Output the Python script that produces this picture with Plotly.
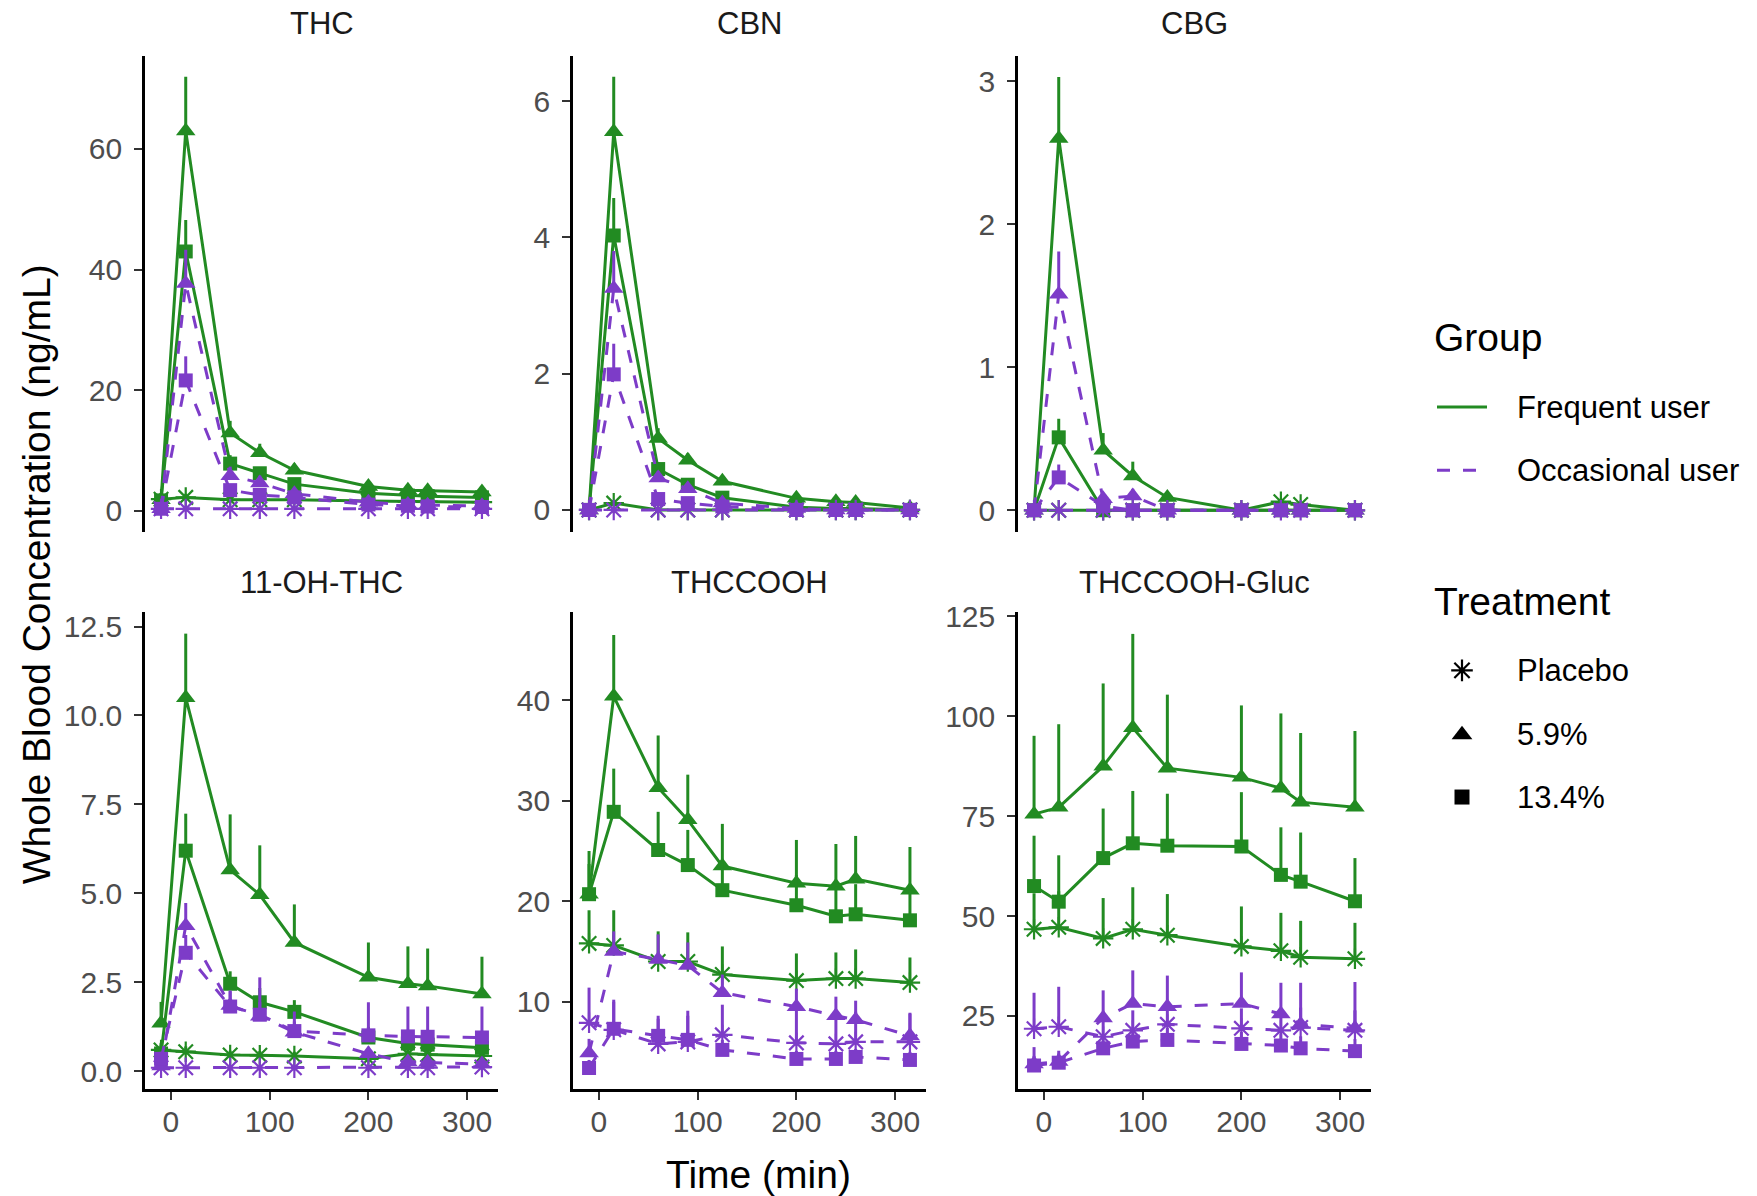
import plotly.graph_objects as go

# ---------------------------------------------------------------------------
# Data: mean whole-blood concentrations (ng/mL) and upper error (SD) by time
# ---------------------------------------------------------------------------
time_min = [-10, 15, 60, 90, 125, 200, 240, 260, 315]

analytes = ["THC", "CBN", "CBG", "11-OH-THC", "THCCOOH", "THCCOOH-Gluc"]
groups = ["Frequent user", "Occasional user"]
treatments = ["Placebo", "5.9%", "13.4%"]

x_ticks = [0, 100, 200, 300]
thc_ticks = [0, 20, 40, 60]
cbn_ticks = [0, 2, 4, 6]
cbg_ticks = [0, 1, 2, 3]
oh_thc_ticks = [0.0, 2.5, 5.0, 7.5, 10.0, 12.5]
thccooh_ticks = [10, 20, 30, 40]
gluc_ticks = [25, 50, 75, 100, 125]

# THC
thc_freq_placebo = [1.9, 2.2, 1.8, 1.8, 1.8, 1.6, 1.5, 1.5, 1.4]
thc_freq_placebo_sd = [0.5, 0.6, 0.5, 0.5, 0.5, 0.4, 0.4, 0.4, 0.4]
thc_freq_low = [1.8, 63.0, 12.9, 9.6, 6.7, 4.0, 3.4, 3.3, 3.1]
thc_freq_low_sd = [0.6, 9.0, 2.0, 1.5, 1.1, 0.7, 0.6, 0.6, 0.5]
thc_freq_high = [1.7, 43.0, 7.8, 6.2, 4.4, 2.9, 2.5, 2.4, 2.2]
thc_freq_high_sd = [0.5, 5.2, 1.4, 1.0, 0.8, 0.5, 0.5, 0.5, 0.4]
thc_occ_placebo = [0.3, 0.3, 0.3, 0.3, 0.3, 0.3, 0.3, 0.3, 0.3]
thc_occ_placebo_sd = [0.1, 0.1, 0.1, 0.1, 0.1, 0.1, 0.1, 0.1, 0.1]
thc_occ_low = [0.3, 37.7, 5.8, 4.6, 2.8, 1.4, 1.0, 0.9, 0.8]
thc_occ_low_sd = [0.2, 5.6, 1.5, 1.2, 0.8, 0.5, 0.4, 0.4, 0.3]
thc_occ_high = [0.3, 21.6, 3.4, 2.6, 2.2, 1.0, 0.8, 0.7, 0.6]
thc_occ_high_sd = [0.1, 4.0, 0.9, 0.7, 0.6, 0.4, 0.3, 0.3, 0.3]

# CBN
cbn_freq_placebo = [0.0, 0.10, 0.0, 0.0, 0.0, 0.0, 0.0, 0.0, 0.0]
cbn_freq_placebo_sd = [0.0, 0.03, 0.0, 0.0, 0.0, 0.0, 0.0, 0.0, 0.0]
cbn_freq_low = [0.0, 5.55, 1.05, 0.73, 0.42, 0.17, 0.12, 0.11, 0.03]
cbn_freq_low_sd = [0.0, 0.81, 0.15, 0.10, 0.07, 0.04, 0.03, 0.03, 0.02]
cbn_freq_high = [0.0, 4.03, 0.60, 0.37, 0.18, 0.04, 0.02, 0.02, 0.0]
cbn_freq_high_sd = [0.0, 0.55, 0.10, 0.06, 0.04, 0.02, 0.01, 0.01, 0.0]
cbn_occ_placebo = [0.0, 0.0, 0.0, 0.0, 0.0, 0.0, 0.0, 0.0, 0.0]
cbn_occ_placebo_sd = [0.0, 0.0, 0.0, 0.0, 0.0, 0.0, 0.0, 0.0, 0.0]
cbn_occ_low = [0.0, 3.25, 0.47, 0.31, 0.10, 0.02, 0.0, 0.0, 0.0]
cbn_occ_low_sd = [0.0, 0.55, 0.10, 0.06, 0.03, 0.01, 0.0, 0.0, 0.0]
cbn_occ_high = [0.0, 1.99, 0.16, 0.10, 0.05, 0.0, 0.0, 0.0, 0.0]
cbn_occ_high_sd = [0.0, 0.45, 0.05, 0.03, 0.02, 0.0, 0.0, 0.0, 0.0]

# CBG
cbg_freq_placebo = [0.0, 0.0, 0.0, 0.0, 0.0, 0.0, 0.06, 0.04, 0.0]
cbg_freq_placebo_sd = [0.0, 0.0, 0.0, 0.0, 0.0, 0.0, 0.02, 0.02, 0.0]
cbg_freq_low = [0.0, 2.60, 0.42, 0.24, 0.09, 0.0, 0.0, 0.0, 0.0]
cbg_freq_low_sd = [0.0, 0.43, 0.12, 0.10, 0.03, 0.0, 0.0, 0.0, 0.0]
cbg_freq_high = [0.0, 0.51, 0.0, 0.0, 0.0, 0.0, 0.0, 0.0, 0.0]
cbg_freq_high_sd = [0.0, 0.13, 0.0, 0.0, 0.0, 0.0, 0.0, 0.0, 0.0]
cbg_occ_placebo = [0.0, 0.0, 0.0, 0.0, 0.0, 0.0, 0.0, 0.0, 0.0]
cbg_occ_placebo_sd = [0.0, 0.0, 0.0, 0.0, 0.0, 0.0, 0.0, 0.0, 0.0]
cbg_occ_low = [0.0, 1.51, 0.08, 0.10, 0.0, 0.0, 0.0, 0.0, 0.0]
cbg_occ_low_sd = [0.0, 0.30, 0.04, 0.05, 0.0, 0.0, 0.0, 0.0, 0.0]
cbg_occ_high = [0.0, 0.23, 0.03, 0.0, 0.0, 0.0, 0.0, 0.0, 0.0]
cbg_occ_high_sd = [0.0, 0.09, 0.0, 0.0, 0.0, 0.0, 0.0, 0.0, 0.0]

# 11-OH-THC
oh_freq_placebo = [0.60, 0.55, 0.46, 0.45, 0.43, 0.35, 0.49, 0.47, 0.43]
oh_freq_placebo_sd = [0.15, 0.15, 0.12, 0.12, 0.12, 0.10, 0.12, 0.12, 0.12]
oh_freq_low = [1.35, 10.5, 5.66, 4.96, 3.62, 2.64, 2.46, 2.40, 2.17]
oh_freq_low_sd = [0.60, 1.80, 1.56, 1.39, 1.07, 0.98, 1.05, 1.05, 1.05]
oh_freq_high = [0.50, 6.20, 2.46, 1.94, 1.67, 0.95, 0.78, 0.75, 0.66]
oh_freq_high_sd = [0.30, 1.04, 0.35, 0.40, 0.33, 0.30, 0.30, 0.30, 0.30]
oh_occ_placebo = [0.10, 0.10, 0.10, 0.10, 0.10, 0.10, 0.10, 0.10, 0.12]
oh_occ_placebo_sd = [0.05, 0.05, 0.05, 0.05, 0.05, 0.05, 0.05, 0.05, 0.05]
oh_occ_low = [0.15, 4.09, 1.85, 1.55, 1.10, 0.49, 0.26, 0.25, 0.20]
oh_occ_low_sd = [0.10, 0.64, 0.40, 0.40, 0.30, 0.20, 0.15, 0.15, 0.10]
oh_occ_high = [0.35, 3.33, 1.82, 1.59, 1.13, 1.01, 0.98, 0.97, 0.95]
oh_occ_high_sd = [0.20, 0.50, 0.45, 1.05, 0.55, 0.93, 0.84, 0.85, 0.87]

# THCCOOH
cooh_freq_placebo = [15.8, 15.6, 14.0, 14.0, 12.7, 12.1, 12.3, 12.3, 11.9]
cooh_freq_placebo_sd = [3.3, 3.5, 3.0, 2.9, 2.8, 2.7, 2.6, 2.9, 2.5]
cooh_freq_low = [20.7, 40.4, 31.3, 28.1, 23.5, 21.8, 21.5, 22.2, 21.1]
cooh_freq_low_sd = [4.3, 6.1, 5.2, 4.5, 4.2, 4.3, 4.2, 4.3, 4.3]
cooh_freq_high = [20.7, 28.9, 25.1, 23.6, 21.1, 19.6, 18.5, 18.7, 18.1]
cooh_freq_high_sd = [3.0, 4.3, 3.8, 3.5, 3.0, 3.0, 3.0, 3.0, 3.0]
cooh_occ_placebo = [7.9, 7.2, 5.8, 6.0, 6.7, 5.9, 5.8, 6.0, 6.0]
cooh_occ_placebo_sd = [3.5, 2.8, 2.5, 2.6, 3.0, 3.4, 3.0, 3.0, 2.8]
cooh_occ_low = [4.9, 15.0, 14.2, 13.6, 10.9, 9.5, 8.6, 8.2, 6.6]
cooh_occ_low_sd = [1.4, 2.0, 2.5, 2.3, 1.8, 1.8, 1.9, 1.9, 2.3]
cooh_occ_high = [3.4, 7.3, 6.6, 6.2, 5.2, 4.3, 4.3, 4.5, 4.2]
cooh_occ_high_sd = [0.8, 2.9, 2.0, 2.9, 1.0, 0.8, 0.8, 0.8, 0.8]

# THCCOOH-glucuronide
gluc_freq_placebo = [46.7, 47.2, 44.4, 46.7, 45.2, 42.4, 41.3, 39.7, 39.3]
gluc_freq_placebo_sd = [9.0, 9.0, 10.1, 10.5, 10.3, 10.0, 9.5, 9.1, 9.0]
gluc_freq_low = [75.5, 77.2, 87.5, 97.1, 87.0, 84.7, 82.0, 78.5, 77.2]
gluc_freq_low_sd = [19.6, 20.8, 20.7, 23.5, 18.4, 18.0, 18.7, 17.3, 19.1]
gluc_freq_high = [57.5, 53.6, 64.5, 68.2, 67.6, 67.4, 60.3, 58.6, 53.7]
gluc_freq_high_sd = [12.6, 11.6, 12.4, 13.1, 13.0, 13.6, 11.9, 12.3, 10.8]
gluc_occ_placebo = [21.8, 22.3, 19.8, 21.4, 22.9, 21.9, 21.4, 22.1, 21.4]
gluc_occ_placebo_sd = [9.0, 10.0, 5.0, 5.0, 5.0, 5.0, 5.0, 5.0, 5.0]
gluc_occ_low = [13.0, 13.6, 24.5, 28.1, 27.3, 28.1, 25.5, 22.9, 21.9]
gluc_occ_low_sd = [2.0, 2.0, 6.9, 8.3, 7.8, 7.8, 7.8, 10.4, 11.6]
gluc_occ_high = [12.6, 13.3, 16.9, 18.6, 19.0, 18.0, 17.6, 16.9, 16.2]
gluc_occ_high_sd = [4.6, 3.0, 3.0, 3.0, 3.0, 3.0, 3.0, 3.0, 3.0]

# Lookup table: analyte -> (group, treatment) -> (mean, sd)
series = {
    "THC": {
        ("Frequent user", "Placebo"): (thc_freq_placebo, thc_freq_placebo_sd),
        ("Frequent user", "5.9%"): (thc_freq_low, thc_freq_low_sd),
        ("Frequent user", "13.4%"): (thc_freq_high, thc_freq_high_sd),
        ("Occasional user", "Placebo"): (thc_occ_placebo, thc_occ_placebo_sd),
        ("Occasional user", "5.9%"): (thc_occ_low, thc_occ_low_sd),
        ("Occasional user", "13.4%"): (thc_occ_high, thc_occ_high_sd),
    },
    "CBN": {
        ("Frequent user", "Placebo"): (cbn_freq_placebo, cbn_freq_placebo_sd),
        ("Frequent user", "5.9%"): (cbn_freq_low, cbn_freq_low_sd),
        ("Frequent user", "13.4%"): (cbn_freq_high, cbn_freq_high_sd),
        ("Occasional user", "Placebo"): (cbn_occ_placebo, cbn_occ_placebo_sd),
        ("Occasional user", "5.9%"): (cbn_occ_low, cbn_occ_low_sd),
        ("Occasional user", "13.4%"): (cbn_occ_high, cbn_occ_high_sd),
    },
    "CBG": {
        ("Frequent user", "Placebo"): (cbg_freq_placebo, cbg_freq_placebo_sd),
        ("Frequent user", "5.9%"): (cbg_freq_low, cbg_freq_low_sd),
        ("Frequent user", "13.4%"): (cbg_freq_high, cbg_freq_high_sd),
        ("Occasional user", "Placebo"): (cbg_occ_placebo, cbg_occ_placebo_sd),
        ("Occasional user", "5.9%"): (cbg_occ_low, cbg_occ_low_sd),
        ("Occasional user", "13.4%"): (cbg_occ_high, cbg_occ_high_sd),
    },
    "11-OH-THC": {
        ("Frequent user", "Placebo"): (oh_freq_placebo, oh_freq_placebo_sd),
        ("Frequent user", "5.9%"): (oh_freq_low, oh_freq_low_sd),
        ("Frequent user", "13.4%"): (oh_freq_high, oh_freq_high_sd),
        ("Occasional user", "Placebo"): (oh_occ_placebo, oh_occ_placebo_sd),
        ("Occasional user", "5.9%"): (oh_occ_low, oh_occ_low_sd),
        ("Occasional user", "13.4%"): (oh_occ_high, oh_occ_high_sd),
    },
    "THCCOOH": {
        ("Frequent user", "Placebo"): (cooh_freq_placebo, cooh_freq_placebo_sd),
        ("Frequent user", "5.9%"): (cooh_freq_low, cooh_freq_low_sd),
        ("Frequent user", "13.4%"): (cooh_freq_high, cooh_freq_high_sd),
        ("Occasional user", "Placebo"): (cooh_occ_placebo, cooh_occ_placebo_sd),
        ("Occasional user", "5.9%"): (cooh_occ_low, cooh_occ_low_sd),
        ("Occasional user", "13.4%"): (cooh_occ_high, cooh_occ_high_sd),
    },
    "THCCOOH-Gluc": {
        ("Frequent user", "Placebo"): (gluc_freq_placebo, gluc_freq_placebo_sd),
        ("Frequent user", "5.9%"): (gluc_freq_low, gluc_freq_low_sd),
        ("Frequent user", "13.4%"): (gluc_freq_high, gluc_freq_high_sd),
        ("Occasional user", "Placebo"): (gluc_occ_placebo, gluc_occ_placebo_sd),
        ("Occasional user", "5.9%"): (gluc_occ_low, gluc_occ_low_sd),
        ("Occasional user", "13.4%"): (gluc_occ_high, gluc_occ_high_sd),
    },
}

y_ticks = {
    "THC": thc_ticks, "CBN": cbn_ticks, "CBG": cbg_ticks,
    "11-OH-THC": oh_thc_ticks, "THCCOOH": thccooh_ticks,
    "THCCOOH-Gluc": gluc_ticks,
}
y_ranges = {
    "THC": [-3.5, 75.5], "CBN": [-0.32, 6.67], "CBG": [-0.15, 3.18],
    "11-OH-THC": [-0.5, 12.91], "THCCOOH": [1.3, 48.8],
    "THCCOOH-Gluc": [6.7, 126.1],
}
x_range = [-26.25, 331.25]

# ---------------------------------------------------------------------------
# Styling
# ---------------------------------------------------------------------------
W, H = 1757, 1196
FONT = "Liberation Sans, Arial, Helvetica, sans-serif"
GREEN = "#228B22"
PURPLE = "#7D3CC8"
group_color = {"Frequent user": GREEN, "Occasional user": PURPLE}
group_dash = {"Frequent user": "solid", "Occasional user": "13px,13px"}
treat_symbol = {"Placebo": "asterisk-open", "5.9%": "triangle-up", "13.4%": "square"}
treat_size = {"Placebo": 17, "5.9%": 17, "13.4%": 14}
treat_outline = {"Placebo": 2.2, "5.9%": 0, "13.4%": 0}

LINE_W = 3.0
TICK_FONT = 30
TITLE_FONT = 39

# panel pixel boxes (left, right) per column and (top, bottom) per row
col_px = [(145, 498), (573, 926), (1018, 1371)]
row_px = [(44, 525), (606, 1088)]
strip_y = [12, 576]

fig = go.Figure()
layout_axes = {}

for i, name in enumerate(analytes):
    r, c = divmod(i, 3)
    k = i + 1
    xa = "x" if k == 1 else f"x{k}"
    ya = "y" if k == 1 else f"y{k}"
    x0, x1 = col_px[c]
    y0, y1 = row_px[r]
    bottom = r == 1

    layout_axes["xaxis" if k == 1 else f"xaxis{k}"] = dict(
        domain=[x0 / W, x1 / W], range=x_range, anchor=ya,
        showline=bottom, linecolor="black", linewidth=2.6,
        ticks="outside" if bottom else "", ticklen=8, tickwidth=2.4,
        tickcolor="#333333", tickvals=x_ticks, showticklabels=bottom,
        tickfont=dict(family=FONT, size=TICK_FONT, color="#4D4D4D"),
        ticklabelstandoff=-4,
        showgrid=False, zeroline=False, fixedrange=True,
    )
    layout_axes["yaxis" if k == 1 else f"yaxis{k}"] = dict(
        domain=[1 - y1 / H, 1 - y0 / H], range=y_ranges[name], anchor=xa,
        showline=True, linecolor="black", linewidth=2.6,
        ticks="outside", ticklen=8, tickwidth=2.4, tickcolor="#333333",
        tickvals=y_ticks[name],
        tickformat=".1f" if name == "11-OH-THC" else "",
        tickfont=dict(family=FONT, size=TICK_FONT, color="#4D4D4D"),
        ticklabelstandoff=6,
        showgrid=False, zeroline=False, fixedrange=True,
    )

    for g in groups:
        for t in treatments:
            mean, sd = series[name][(g, t)]
            col = group_color[g]
            fig.add_trace(go.Scatter(
                x=time_min, y=mean, xaxis=xa, yaxis=ya,
                mode="lines+markers",
                line=dict(color=col, width=LINE_W, dash=group_dash[g]),
                marker=dict(symbol=treat_symbol[t], size=treat_size[t],
                            color=col,
                            line=dict(color=col, width=treat_outline[t])),
                error_y=dict(type="data", symmetric=False, array=sd,
                             arrayminus=[0] * len(sd), color=col,
                             thickness=LINE_W, width=0),
                name=f"{g} {t}", showlegend=False, hoverinfo="skip",
            ))

    # facet strip title
    fig.add_annotation(
        x=(x0 + x1) / 2 / W, y=1 - strip_y[r] / H,
        xref="paper", yref="paper", text=name, showarrow=False,
        font=dict(family=FONT, size=31, color="#1A1A1A"),
        xanchor="center", yanchor="middle",
    )

# ---------------------------------------------------------------------------
# Legend drawn on a pixel-space overlay axis
# ---------------------------------------------------------------------------
layout_axes["xaxis7"] = dict(domain=[0, 1], range=[0, W], visible=False,
                             anchor="y7", fixedrange=True)
layout_axes["yaxis7"] = dict(domain=[0, 1], range=[H, 0], visible=False,
                             anchor="x7", fixedrange=True)

key_x0, key_x1, key_cx, text_x, title_x = 1437, 1487, 1462, 1515, 1432
group_rows = {"Frequent user": 399, "Occasional user": 463}
treat_rows = {"Placebo": 665, "5.9%": 730, "13.4%": 793}

for g, yy in group_rows.items():
    fig.add_trace(go.Scatter(
        x=[key_x0, key_x1], y=[yy, yy], xaxis="x7", yaxis="y7", mode="lines",
        line=dict(color=group_color[g], width=LINE_W, dash=group_dash[g]),
        showlegend=False, hoverinfo="skip",
    ))
    fig.add_annotation(x=text_x, y=yy, xref="x7", yref="y7", text=g,
                       showarrow=False, xanchor="left", yanchor="middle",
                       font=dict(family=FONT, size=31, color="black"))

for t, yy in treat_rows.items():
    fig.add_trace(go.Scatter(
        x=[key_cx], y=[yy], xaxis="x7", yaxis="y7", mode="markers",
        marker=dict(symbol=treat_symbol[t], size=treat_size[t] + 1,
                    color="black",
                    line=dict(color="black", width=treat_outline[t])),
        showlegend=False, hoverinfo="skip",
    ))
    fig.add_annotation(x=text_x, y=yy, xref="x7", yref="y7", text=t,
                       showarrow=False, xanchor="left", yanchor="middle",
                       font=dict(family=FONT, size=31, color="black"))

for title, yy in (("Group", 329), ("Treatment", 595)):
    fig.add_annotation(x=title_x, y=yy, xref="x7", yref="y7", text=title,
                       showarrow=False, xanchor="left", yanchor="middle",
                       font=dict(family=FONT, size=TITLE_FONT, color="black"))

# axis titles
fig.add_annotation(x=36 / W, y=1 - 568 / H, xref="paper", yref="paper",
                   text="Whole Blood Concentration (ng/mL)", textangle=-90,
                   showarrow=False, xanchor="center", yanchor="middle",
                   font=dict(family=FONT, size=TITLE_FONT, color="black"))
fig.add_annotation(x=758 / W, y=1 - 1174 / H, xref="paper", yref="paper",
                   text="Time (min)", showarrow=False,
                   xanchor="center", yanchor="middle",
                   font=dict(family=FONT, size=TITLE_FONT, color="black"))

fig.update_layout(
    width=W, height=H, margin=dict(l=0, r=0, t=0, b=0),
    paper_bgcolor="white", plot_bgcolor="rgba(0,0,0,0)",
    showlegend=False, font=dict(family=FONT),
    **layout_axes,
)

fig.write_html("out.html")
